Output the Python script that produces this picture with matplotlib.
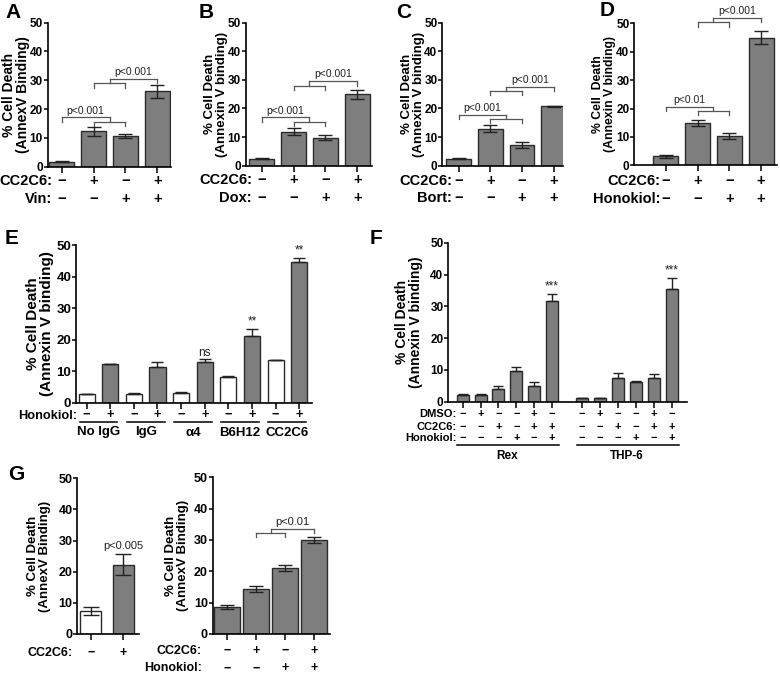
import matplotlib
matplotlib.use('Agg')
import matplotlib.pyplot as plt
from matplotlib.transforms import blended_transform_factory

plt.rcParams['font.family'] = ['Liberation Sans', 'DejaVu Sans']

W, H = 780, 674

# panel A-D: four bars each
a_vals = [1.8, 12.3, 10.7, 26.2]
a_err = [0.1, 1.5, 0.6, 2.2]
b_vals = [2.5, 11.9, 9.8, 25.0]
b_err = [0.15, 1.3, 0.9, 1.6]
c_vals = [2.5, 13.0, 7.2, 20.7]
c_err = [0.3, 1.2, 1.0, 0.2]
d_vals = [3.2, 15.0, 10.3, 45.0]
d_err = [0.5, 1.0, 1.0, 2.2]
cc2c6_signs = ['−', '+', '−', '+']
drug_signs = ['−', '−', '+', '+']

# panel E
e_groups = ['No IgG', 'IgG', 'α4', 'B6H12', 'CC2C6']
e_ctrl = [2.6, 2.85, 3.1, 8.0, 13.6]
e_ctrl_err = [0.0, 0.1, 0.15, 0.6, 0.0]
e_hon = [12.2, 11.3, 12.8, 21.2, 44.5]
e_hon_err = [0.0, 1.6, 0.9, 2.3, 1.5]
e_marks = ['', '', 'ns', '**', '**']

# panel F
f_groups = ['Rex', 'THP-6']
f_rex = [2.2, 2.1, 4.0, 9.6, 5.0, 31.7]
f_rex_err = [0.3, 0.3, 0.9, 1.2, 1.1, 2.3]
f_thp = [1.05, 1.1, 7.3, 6.3, 7.6, 35.3]
f_thp_err = [0.2, 0.2, 1.8, 0.3, 1.0, 3.7]
f_dmso = ['−', '+', '−', '−', '+', '−']
f_cc2c6 = ['−', '−', '+', '−', '+', '+']
f_hon = ['−', '−', '−', '+', '−', '+']

# panel G
g1_vals = [7.3, 22.2]
g1_err = [1.3, 3.4]
g2_vals = [8.6, 14.4, 21.0, 30.0]
g2_err = [0.5, 1.0, 0.9, 1.0]

GREY = '#7e7e7e'
EDGE = '#2a2a2a'

fig = plt.figure(figsize=(W / 100, H / 100), dpi=100)


def add_ax(l, t, r, b):
    return fig.add_axes([l / W, 1 - b / H, (r - l) / W, (b - t) / H])


def style(ax, xlim, fs=8.5, ticks=None):
    ax.set_xlim(*xlim)
    ax.set_ylim(0, 50)
    ax.set_yticks(range(0, 51, 10))
    for s in ['top', 'right']:
        ax.spines[s].set_visible(False)
    for s in ['left', 'bottom']:
        ax.spines[s].set_linewidth(1.2)
    ax.tick_params(axis='y', length=3, width=1.1, labelsize=fs, pad=0.5)
    ax.tick_params(axis='x', length=4, width=1.1, labelbottom=False)
    if ticks is not None:
        ax.set_xticks(ticks)
    for lab in ax.get_yticklabels():
        lab.set_fontweight('bold')


def ylab(ax, text, xpx, fs, ls=1.0):
    pos = ax.get_position()
    fig.text(xpx / W, pos.y0 + pos.height / 2, text, rotation=90,
             ha='center', va='center', fontsize=fs, fontweight='bold',
             linespacing=ls)


def rows(ax, xs, labels, signs, ys, xright, fs, sfs=None):
    trans = blended_transform_factory(ax.transData, fig.transFigure)
    sfs = sfs or fs
    for lab, sg, y in zip(labels, signs, ys):
        fig.text(xright / W, 1 - y / H, lab, ha='right', va='center',
                 fontsize=fs, fontweight='bold')
        for x, s in zip(xs, sg):
            ax.text(x, 1 - y / H, s, transform=trans, ha='center',
                    va='center', fontsize=sfs, fontweight='bold')


def side(x, y, d, ax, lw):
    # drop for a single bar, or a small sub-bracket for a pair of bars
    kw = dict(color='#555555', lw=lw, clip_on=False)
    if isinstance(x, tuple):
        a, b = x
        m = (a + b) / 2
        ax.plot([m, m], [y, y - d], **kw)
        ax.plot([a, b], [y - d, y - d], **kw)
        ax.plot([a, a], [y - d, y - 2 * d], **kw)
        ax.plot([b, b], [y - d, y - 2 * d], **kw)
        return m
    ax.plot([x, x], [y, y - d], **kw)
    return x


def bracket(ax, left, right, y, d, text, fs=7.5, lw=0.9):
    xl = side(left, y, d, ax, lw)
    xr = side(right, y, d, ax, lw)
    ax.plot([xl, xr], [y, y], color='#555555', lw=lw, clip_on=False)
    ax.text((xl + xr) / 2, y + 0.6, text, ha='center', va='bottom',
            fontsize=fs, color='#222222')


def bars(ax, xs, vals, errs, width, color=GREY, upper_only=False, capsize=5):
    ax.bar(xs, vals, width=width, color=color, edgecolor=EDGE, linewidth=1.0,
           zorder=2)
    yerr = [[0] * len(errs), errs] if upper_only else errs
    ax.errorbar(xs, vals, yerr=yerr, fmt='none', ecolor='#222222',
                elinewidth=1.0, capsize=capsize, capthick=1.0, zorder=3)


x4 = [0, 1, 2, 3]

# ---- A ----
ax = add_ax(47.7, 22.7, 170.7, 166.7)
bars(ax, x4, a_vals, a_err, 0.78)
style(ax, (-0.44, 3.42), ticks=x4)
bracket(ax, 0, (1, 2), 17.1, 1.5, 'p<0.001')
bracket(ax, (1, 2), 3, 30.6, 1.6, 'p<0.001')
ylab(ax, '% Cell Death\n(AnnexV Binding)', 16, 10, 1.0)
rows(ax, x4, ['CC2C6:', 'Vin:'], [cc2c6_signs, drug_signs], [181, 199], 52, 10.5)
fig.text(5 / W, 1 - 12 / H, 'A', fontsize=15, fontweight='bold', va='center')

# ---- B ----
ax = add_ax(245.7, 22.7, 371.7, 165.7)
bars(ax, x4, b_vals, b_err, 0.78)
style(ax, (-0.5, 3.45), ticks=x4)
bracket(ax, 0, (1, 2), 16.9, 1.5, 'p<0.001')
bracket(ax, (1, 2), 3, 29.6, 1.6, 'p<0.001')
ylab(ax, '% Cell Death\n(Annexin V binding)', 216, 9.5, 1.0)
rows(ax, x4, ['CC2C6:', 'Dox:'], [cc2c6_signs, drug_signs], [180, 198], 252, 10.5)
fig.text(199 / W, 1 - 12 / H, 'B', fontsize=15, fontweight='bold', va='center')

# ---- C ----
ax = add_ax(442.3, 22.7, 563, 165.7)
bars(ax, x4, c_vals, c_err, 0.78)
style(ax, (-0.52, 3.3), ticks=x4)
bracket(ax, 0, (1, 2), 17.7, 1.4, 'p<0.001')
bracket(ax, (1, 2), 3, 27.6, 1.4, 'p<0.001')
ylab(ax, '% Cell Death\n(Annexin V binding)', 413, 9.5, 1.0)
rows(ax, x4, ['CC2C6:', 'Bort:'], [cc2c6_signs, drug_signs], [181, 198], 452, 10.5)
fig.text(396 / W, 1 - 12 / H, 'C', fontsize=15, fontweight='bold', va='center')

# ---- D ----
ax = add_ax(634.3, 23.3, 776.7, 165.3)
bars(ax, x4, d_vals, d_err, 0.78)
style(ax, (-0.99, 3.49), ticks=x4)
bracket(ax, 0, (1, 2), 20.7, 1.5, 'p<0.01')
bracket(ax, (1, 2), 3, 51.8, 1.5, 'p<0.001')
ylab(ax, '% Cell  Death\n(Annexin V binding)', 604, 8.8, 0.98)
rows(ax, x4, ['CC2C6:', 'Honokiol:'], [cc2c6_signs, drug_signs], [181, 199], 660, 10.5)
fig.text(600 / W, 1 - 10 / H, 'D', fontsize=15, fontweight='bold', va='center')

# ---- E ----
ax = add_ax(76, 245, 311.7, 402.7)
xc = [2 * i for i in range(5)]
xh = [2 * i + 1 for i in range(5)]
bars(ax, xc, e_ctrl, e_ctrl_err, 0.68, color='white', upper_only=True, capsize=4)
bars(ax, xh, e_hon, e_hon_err, 0.68, upper_only=True, capsize=4)
style(ax, (-0.45, 9.53), fs=9.5, ticks=list(range(10)))
for x, v, e, m in zip(xh, e_hon, e_hon_err, e_marks):
    if m:
        ax.text(x, v + e + 0.3, m, ha='center', va='bottom', fontsize=8.5,
                color='#222222')
ylab(ax, '% Cell Death\n(Annexin V binding)', 40, 11, 1.0)
trans = blended_transform_factory(ax.transData, fig.transFigure)
fig.text(77 / W, 1 - 415.5 / H, 'Honokiol:', ha='right', va='center',
         fontsize=9.2, fontweight='bold')
for i, g in enumerate(e_groups):
    ax.text(2 * i, 1 - 415 / H, '−', transform=trans, ha='center',
            va='center', fontsize=9.2, fontweight='bold')
    ax.text(2 * i + 1, 1 - 415 / H, '+', transform=trans, ha='center',
            va='center', fontsize=9.2, fontweight='bold')
    ax.plot([2 * i - 0.3, 2 * i + 1.3], [1 - 421.5 / H] * 2, transform=trans,
            color='black', lw=1.1, clip_on=False)
    ax.text(2 * i + 0.5, 1 - 432.5 / H, g, transform=trans, ha='center',
            va='center', fontsize=9.5, fontweight='bold')
fig.text(5 / W, 1 - 238 / H, 'E', fontsize=15, fontweight='bold', va='center')

# ---- F ----
ax = add_ax(448.3, 242.7, 687.3, 401.7)
xr = list(range(6))
xt = [x + 6.68 for x in xr]
bars(ax, xr, f_rex, f_rex_err, 0.67, upper_only=True, capsize=3.5)
bars(ax, xt, f_thp, f_thp_err, 0.67, upper_only=True, capsize=3.5)
style(ax, (-0.8, 12.55), fs=8.5, ticks=xr + xt)
for xs, vals, errs in [(xr, f_rex, f_rex_err), (xt, f_thp, f_thp_err)]:
    ax.text(xs[-1], vals[-1] + errs[-1] + 0.3, '***', ha='center',
            va='bottom', fontsize=8.5, color='#222222')
ylab(ax, '% Cell Death\n(Annexin V binding)', 409, 10, 1.0)
rows(ax, xr + xt, ['DMSO:', 'CC2C6:', 'Honokiol:'],
     [f_dmso * 2, f_cc2c6 * 2, f_hon * 2], [414, 426.7, 438.3], 457, 8, 8)
trans = blended_transform_factory(ax.transData, fig.transFigure)
for xs, g in [(xr, f_groups[0]), (xt, f_groups[1])]:
    ax.plot([xs[0] - 0.3, xs[-1] + 0.4], [1 - 445 / H] * 2, transform=trans,
            color='black', lw=1.1, clip_on=False)
    ax.text((xs[0] + xs[-1]) / 2, 1 - 456 / H, g, transform=trans,
            ha='center', va='center', fontsize=8.5, fontweight='bold')
fig.text(370 / W, 1 - 238 / H, 'F', fontsize=15, fontweight='bold', va='center')

# ---- G left ----
ax = add_ax(77.3, 478.3, 139.3, 634)
bars(ax, [0], g1_vals[:1], g1_err[:1], 0.66, color='white', capsize=6)
bars(ax, [1], g1_vals[1:], g1_err[1:], 0.66, capsize=6)
style(ax, (-0.41, 1.49), fs=9, ticks=[0, 1])
ax.text(1, g1_vals[1] + g1_err[1] + 1.0, 'p<0.005', ha='center',
        va='bottom', fontsize=8, color='#222222')
ylab(ax, '% Cell Death\n(AnnexV Binding)', 39, 9.5, 1.05)
rows(ax, [0, 1], ['CC2C6:'], [['−', '+']], [652.7], 73, 9, 9)
fig.text(8 / W, 1 - 475 / H, 'G', fontsize=15, fontweight='bold', va='center')

# ---- G right ----
ax = add_ax(212.7, 477.3, 330, 634)
bars(ax, x4, g2_vals, g2_err, 0.9, capsize=5)
style(ax, (-0.505, 3.55), fs=9, ticks=x4)
bracket(ax, (1, 2), 3, 33.5, 1.2, 'p<0.01', fs=8)
ylab(ax, '% Cell Death\n(AnnexV Binding)', 177, 9.5, 1.05)
rows(ax, x4, ['CC2C6:', 'Honokiol:'], [cc2c6_signs, drug_signs], [651, 668.3], 202, 9, 9)

fig.savefig('out.png', dpi=100)
